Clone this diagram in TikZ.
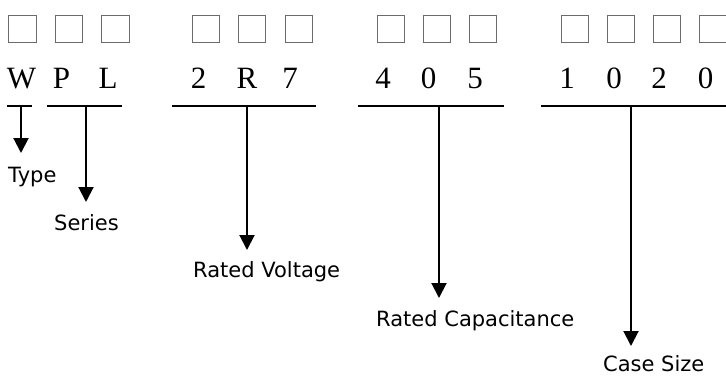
\documentclass[tikz,border=0pt]{standalone}
\usepackage{fontspec}
\setmainfont{Liberation Serif}
\newfontfamily\lblfont{DejaVu Sans}
\usepackage{tikz}
\usetikzlibrary{arrows.meta,positioning}

\begin{document}
\begin{tikzpicture}[x=1pt,y=-1pt,
  slot/.style={draw=cbox,line width=1.4pt,minimum width=27.5pt,minimum height=27.5pt,inner sep=0pt},
  code/.style={anchor=base,inner sep=0pt,font=\fontsize{31}{31}\selectfont},
  bar/.style={line width=2pt,color=cline},
  pointer/.style={line width=2pt,color=cline,-{Triangle[length=15pt,width=15pt]}},
  lbl/.style={anchor=base west,inner sep=0pt,font=\lblfont\fontsize{21}{21}\selectfont}]
%
\useasboundingbox (0,0) rectangle (726,376);
%
\definecolor{cbox}{rgb}{0.42,0.42,0.42}
\definecolor{cline}{rgb}{0.0,0.0,0.0}
%
\node[slot] (b0) at (22.5,29) {};
\node[slot] (b1) at (69,29) {};
\node[slot] (b2) at (115.5,29) {};
\node[slot] (b3) at (206,29) {};
\node[slot] (b4) at (252,29) {};
\node[slot] (b5) at (299,29) {};
\node[slot] (b6) at (391,29) {};
\node[slot] (b7) at (437,29) {};
\node[slot] (b8) at (483,29) {};
\node[slot] (b9) at (575,29) {};
\node[slot] (b10) at (621,29) {};
\node[slot] (b11) at (667,29) {};
\node[slot] (b12) at (713,29) {};
%
\node[code] (c0) at (21.5,88) {W};
\node[code] (c1) at (61.5,88) {P};
\node[code] (c2) at (108,88) {L};
\node[code] (c3) at (198.5,88) {2};
\node[code] (c4) at (247,88) {R};
\node[code] (c5) at (290,88) {7};
\node[code] (c6) at (383,88) {4};
\node[code] (c7) at (428.5,88) {0};
\node[code] (c8) at (475,88) {5};
\node[code] (c9) at (567,88) {1};
\node[code] (c10) at (614,88) {0};
\node[code] (c11) at (659,88) {2};
\node[code] (c12) at (705.5,88) {0};
%
\coordinate (g0l) at (7,106);
\coordinate (g0r) at (32,106);
\coordinate (g0m) at (21,106);
\coordinate (g1l) at (47,106);
\coordinate (g1r) at (122,106);
\coordinate (g1m) at (86,106);
\coordinate (g2l) at (172,106);
\coordinate (g2r) at (316,106);
\coordinate (g2m) at (247,106);
\coordinate (g3l) at (358,106);
\coordinate (g3r) at (504,106);
\coordinate (g3m) at (439,106);
\coordinate (g4l) at (541,106);
\coordinate (g4r) at (727,106);
\coordinate (g4m) at (631,106);
%
\coordinate (e0) at (21,153);
\coordinate (e1) at (86,202);
\coordinate (e2) at (247,250);
\coordinate (e3) at (439,298);
\coordinate (e4) at (631,346);
%
\node[lbl] (l0) at (8,182) {Type};
\node[lbl] (l1) at (54,230) {Series};
\node[lbl] (l2) at (193,277) {Rated Voltage};
\node[lbl] (l3) at (376,326) {Rated Capacitance};
\node[lbl] (l4) at (603,371) {Case Size};
%
\draw[bar] (g0l) -- (g0r);
\draw[bar] (g1l) -- (g1r);
\draw[bar] (g2l) -- (g2r);
\draw[bar] (g3l) -- (g3r);
\draw[bar] (g4l) -- (g4r);
%
\draw[pointer] (g0m) -- (e0);
\draw[pointer] (g1m) -- (e1);
\draw[pointer] (g2m) -- (e2);
\draw[pointer] (g3m) -- (e3);
\draw[pointer] (g4m) -- (e4);
%
\end{tikzpicture}
\end{document}
